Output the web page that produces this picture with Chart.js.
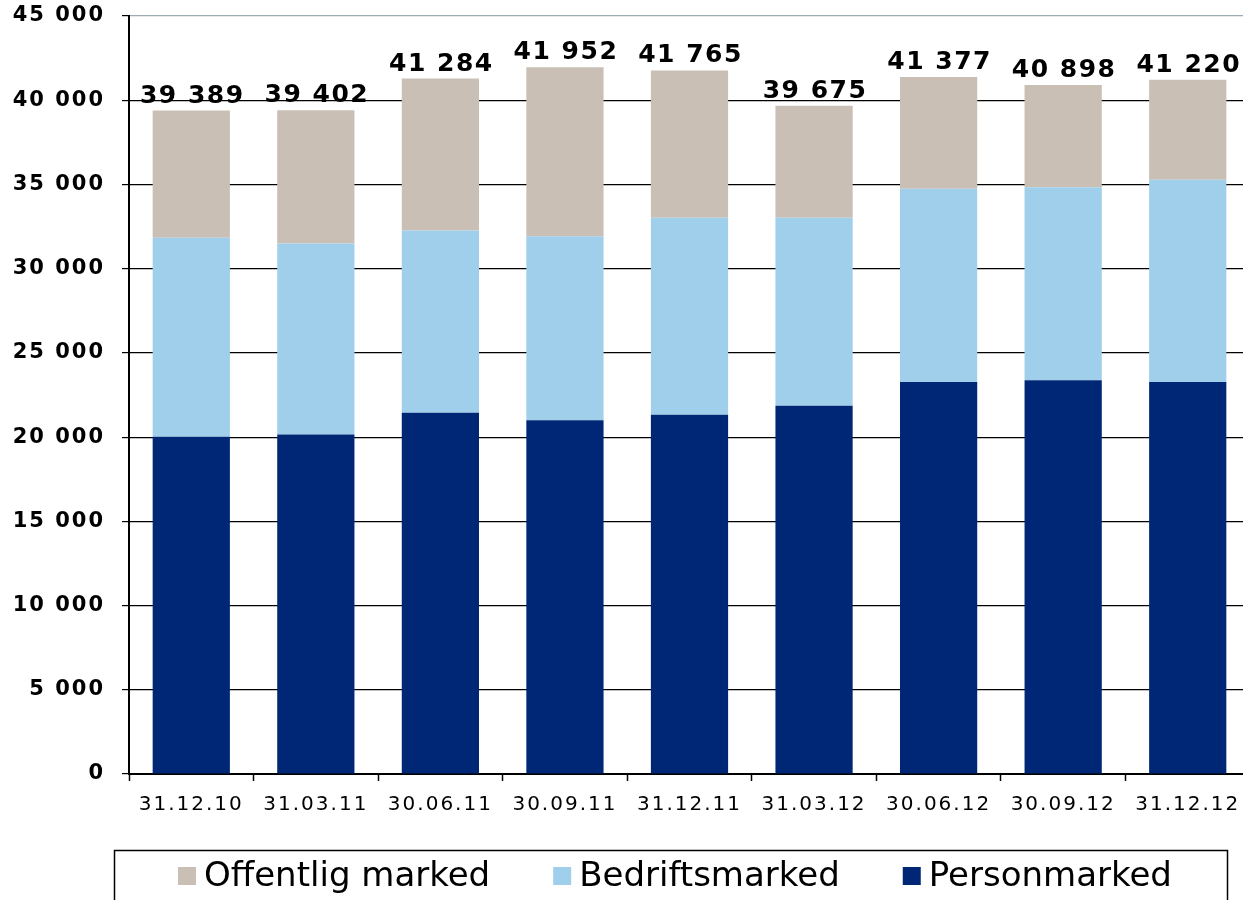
<!DOCTYPE html>
<html><head><meta charset="utf-8">
<script src="https://cdn.jsdelivr.net/npm/chart.js@4"></script>
<style>html,body{margin:0;padding:0;overflow:hidden;background:#fff}#wrap{position:relative;width:1251px;height:900px}</style>
</head><body><div id="wrap"><canvas id="c"></canvas></div>
<script>
const categories = ['31.12.10','31.03.11','30.06.11','30.09.11','31.12.11','31.03.12','30.06.12','30.09.12','31.12.12'];
const personmarked = [20020, 20160, 21450, 21000, 21330, 21860, 23270, 23370, 23270];
const bedriftsmarked = [11820, 11340, 10820, 10930, 11690, 11160, 11470, 11470, 12010];
const offentligMarked = [7549, 7902, 9014, 10022, 8745, 6655, 6637, 6058, 5940];
const totals = [39389, 39402, 41284, 41952, 41765, 39675, 41377, 40898, 41220];
const yTicks = [0, 5000, 10000, 15000, 20000, 25000, 30000, 35000, 40000, 45000];
const legendOrder = ['Offentlig marked', 'Bedriftsmarked', 'Personmarked'];

const fmt = n => String(n).replace(/\B(?=(\d{3})+(?!\d))/g, ' ');
const FONT = '"DejaVu Sans", Verdana, sans-serif';

const spacingPlugin = {
  id: 'spacing',
  beforeLayout(c) { c.ctx.letterSpacing = '2px'; },
  beforeDraw(c) { c.ctx.letterSpacing = '2px'; }
};

const totalsPlugin = {
  id: 'totals',
  afterDatasetsDraw(chart) {
    const ctx = chart.ctx;
    const meta = chart.getDatasetMeta(2);
    ctx.save();
    ctx.font = 'bold 25px ' + FONT;
    ctx.letterSpacing = '1.5px';
    ctx.textAlign = 'center';
    ctx.textBaseline = 'alphabetic';
    ctx.fillStyle = '#000';
    meta.data.forEach((bar, i) => ctx.fillText(fmt(totals[i]), bar.x + 1, bar.y - 8));
    ctx.restore();
  }
};

const legendPlugin = {
  id: 'boxLegend',
  afterDraw(chart) {
    const ctx = chart.ctx;
    ctx.save();
    ctx.letterSpacing = '0px';
    ctx.strokeStyle = '#000';
    ctx.lineWidth = 1.5;
    ctx.strokeRect(114.5, 850.5, 1113, 70);
    ctx.font = '34px ' + FONT;
    ctx.textBaseline = 'middle';
    ctx.textAlign = 'left';
    let x = 178;
    legendOrder.forEach(name => {
      const ds = chart.data.datasets.find(d => d.label === name);
      ctx.fillStyle = ds.backgroundColor;
      ctx.fillRect(x, 867, 18, 18);
      ctx.fillStyle = '#000';
      ctx.fillText(name, x + 26, 877);
      x += 26 + ctx.measureText(name).width + 63;
    });
    ctx.restore();
  }
};

new Chart(document.getElementById('c'), {
  type: 'bar',
  data: {
    labels: categories,
    datasets: [
      { label: 'Personmarked', data: personmarked, backgroundColor: '#002776' },
      { label: 'Bedriftsmarked', data: bedriftsmarked, backgroundColor: '#A0CFEB' },
      { label: 'Offentlig marked', data: offentligMarked, backgroundColor: '#C9BFB5' }
    ]
  },
  options: {
    responsive: true,
    maintainAspectRatio: false,
    animation: false,
    layout: { padding: { top: 16, right: 1, bottom: 83, left: 0 } },
    datasets: { bar: { categoryPercentage: 0.62, barPercentage: 1 } },
    plugins: { legend: { display: false }, tooltip: { enabled: false } },
    scales: {
      x: {
        stacked: true,
        afterFit(s) { s.height = 43; s.paddingLeft = 0; s.paddingRight = 0; },
        grid: { offset: true, drawOnChartArea: false, drawTicks: true, tickLength: 7, tickColor: '#000', tickWidth: 1.5 },
        border: { display: true, color: '#000', width: 2 },
        ticks: { color: '#000', font: { family: FONT, size: 20 }, padding: 12, maxRotation: 0, autoSkip: false }
      },
      y: {
        stacked: true,
        min: 0, max: 45000,
        afterFit(s) { s.width = 129; s.paddingTop = 0; s.paddingBottom = 0; },
        afterBuildTicks(s) { s.ticks = yTicks.map(v => ({ value: v })); },
        grid: {
          color: c => (c.tick && c.tick.value === 45000) ? '#9aabb5' : '#000',
          lineWidth: 1.2,
          drawTicks: true, tickLength: 7, tickColor: '#000'
        },
        border: { display: true, color: '#000', width: 2 },
        ticks: { color: '#000', font: { family: FONT, size: 21, weight: 'bold' }, padding: 17, callback: v => fmt(v) }
      }
    }
  },
  plugins: [spacingPlugin, totalsPlugin, legendPlugin]
});
</script></body></html>
